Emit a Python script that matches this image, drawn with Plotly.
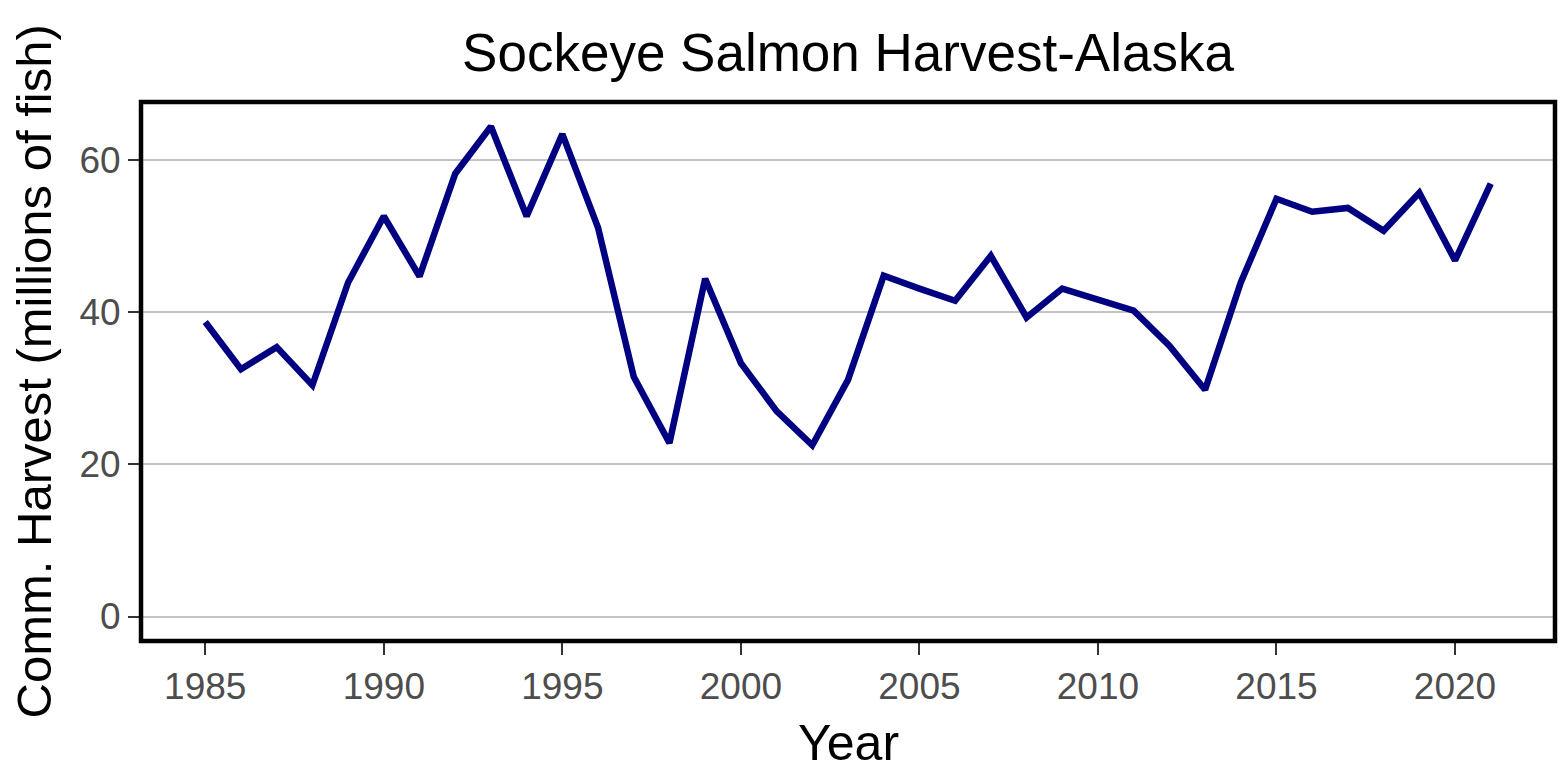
import plotly.graph_objects as go

years = list(range(1985, 2022))
harvest = [38.7, 32.5, 35.4, 30.4, 43.9, 52.6, 44.7, 58.2, 64.4, 52.6,
           63.4, 51.1, 31.5, 22.8, 44.4, 33.3, 27.0, 22.5, 31.1, 44.8,
           43.1, 41.5, 47.4, 39.3, 43.1, 41.7, 40.2, 35.6, 29.8, 43.9,
           54.9, 53.2, 53.7, 50.7, 55.7, 46.8, 56.9]
x_ticks = [1985, 1990, 1995, 2000, 2005, 2010, 2015, 2020]
y_ticks = [0, 20, 40, 60]

title_text = "Sockeye Salmon Harvest-Alaska"
x_title = "Year"
y_title = "Comm. Harvest (millions of fish)"

FONT = "Liberation Sans, Arial, sans-serif"

W, H = 1562, 771
L, T, R, B = 141, 102, 7, 130
PW = W - L - R
PH = H - T - B

xmin, xmax = min(years), max(years)
xpad = 0.05 * (xmax - xmin)
ymin, ymax = 0, max(harvest)
ypad = 0.05 * (ymax - ymin)

fig = go.Figure()
fig.add_trace(go.Scatter(
    x=years, y=harvest, mode="lines",
    line=dict(color="#000080", width=6.5),
    showlegend=False, hoverinfo="x+y",
))

fig.update_layout(
    width=W, height=H,
    paper_bgcolor="white", plot_bgcolor="white",
    margin=dict(l=L, r=R, t=T, b=B, autoexpand=False),
    font=dict(family=FONT, color="black"),
    title=dict(text=title_text, x=(L + PW / 2) / W, xanchor="center",
               y=1 - 52 / H, yanchor="middle",
               font=dict(size=53, color="black", family=FONT)),
    xaxis=dict(
        range=[xmin - xpad, xmax + xpad],
        tickvals=x_ticks, ticktext=[str(v) for v in x_ticks],
        showgrid=False, zeroline=False, showline=False,
        ticks="outside", ticklen=13, tickwidth=2, tickcolor="#333333",
        tickfont=dict(size=37, color="#4D4D4D", family=FONT),
    ),
    yaxis=dict(
        range=[ymin - ypad, ymax + ypad],
        tickvals=y_ticks, ticktext=[str(v) for v in y_ticks],
        showgrid=True, gridcolor="#C4C4C4", gridwidth=2,
        zeroline=False, showline=False,
        ticks="outside", ticklen=12, tickwidth=2, tickcolor="#333333",
        tickfont=dict(size=37, color="#4D4D4D", family=FONT),
    ),
    shapes=[dict(type="rect", xref="paper", yref="paper", x0=0, x1=1, y0=0, y1=1,
                 line=dict(color="black", width=4.5), fillcolor="rgba(0,0,0,0)",
                 layer="above")],
    annotations=[
        dict(text=x_title, xref="paper", yref="paper", x=0.5, y=(641 - 743) / PH,
             xanchor="center", yanchor="middle", showarrow=False, borderpad=0,
             font=dict(size=50, color="black", family=FONT)),
        dict(text=y_title, xref="paper", yref="paper", x=(33 - 141) / PW, y=0.5,
             xanchor="center", yanchor="middle", textangle=-90, showarrow=False,
             borderpad=0, font=dict(size=49, color="black", family=FONT)),
    ],
)

fig.write_html("out.html", config={"displayModeBar": False},
               post_script="document.body.style.margin='0px';document.body.style.overflow='hidden';")
